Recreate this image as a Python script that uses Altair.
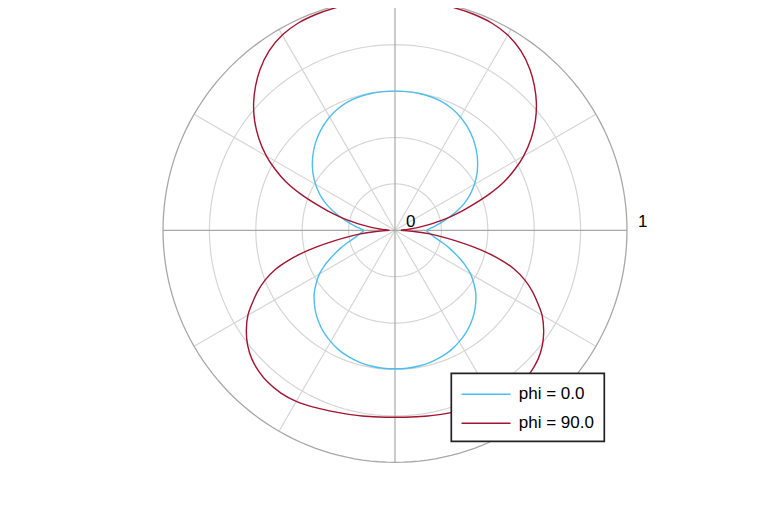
import altair as alt
import pandas as pd

# ---- data (angle in degrees, normalised radius) ----
SERIES = ["phi = 0.0", "phi = 90.0"]
COLORS = ["#4DBEEE", "#A2142F"]

THETA = [0, 2, 4, 6, 8, 10, 12, 14, 16, 18, 21, 24, 27, 30, 34, 38, 42, 46, 50, 55,
         60, 65, 70, 75, 80, 85, 90,
         95, 100, 105, 110, 115, 120, 125, 130, 134, 138, 142, 146, 150, 153, 156, 159,
         162, 164, 166, 168, 170, 172, 174, 176, 178, 180,
         182, 184, 186, 188, 190, 192, 194, 196, 198, 201, 204, 207, 210, 214, 218, 222,
         226, 230, 235, 240, 245, 250, 255, 260, 265, 270,
         275, 280, 285, 290, 295, 300, 305, 310, 314, 318, 322, 326, 330, 333, 336, 339,
         342, 344, 346, 348, 350, 352, 354, 356, 358, 360]

BLUE_R = [0.135, 0.146, 0.158, 0.174, 0.190, 0.207, 0.225, 0.245, 0.266, 0.287,
          0.318, 0.346, 0.371, 0.395, 0.425, 0.452, 0.477, 0.500, 0.521, 0.544,
          0.564, 0.579, 0.590, 0.596, 0.599, 0.600, 0.600,
          0.600, 0.599, 0.596, 0.590, 0.579, 0.564, 0.544, 0.521, 0.500, 0.477,
          0.452, 0.425, 0.395, 0.371, 0.346, 0.318, 0.287, 0.266, 0.245, 0.225,
          0.207, 0.190, 0.174, 0.158, 0.146, 0.135,
          0.139, 0.145, 0.153, 0.162, 0.174, 0.188, 0.205, 0.225, 0.245, 0.276,
          0.310, 0.344, 0.376, 0.410, 0.442, 0.468, 0.492, 0.513, 0.536, 0.554,
          0.570, 0.581, 0.589, 0.594, 0.597, 0.597,
          0.597, 0.594, 0.589, 0.581, 0.570, 0.554, 0.536, 0.513, 0.492, 0.468,
          0.442, 0.410, 0.376, 0.344, 0.310, 0.276, 0.245, 0.225, 0.205, 0.188,
          0.174, 0.162, 0.153, 0.145, 0.139, 0.135]

RED_R = [0.025, 0.032, 0.055, 0.080, 0.115, 0.160, 0.205, 0.250, 0.300, 0.350,
         0.435, 0.515, 0.580, 0.640, 0.708, 0.768, 0.820, 0.865, 0.905, 0.945,
         0.972, 0.986, 0.991, 0.993, 0.994, 0.994, 0.994,
         0.994, 0.994, 0.993, 0.991, 0.986, 0.972, 0.945, 0.905, 0.865, 0.820,
         0.768, 0.708, 0.640, 0.580, 0.515, 0.435, 0.350, 0.300, 0.250, 0.205,
         0.160, 0.115, 0.080, 0.055, 0.032, 0.025,
         0.040, 0.090, 0.150, 0.205, 0.270, 0.345, 0.420, 0.485, 0.540, 0.600,
         0.648, 0.690, 0.732, 0.773, 0.806, 0.830, 0.845, 0.854, 0.857, 0.852,
         0.840, 0.828, 0.819, 0.813, 0.808, 0.806,
         0.808, 0.813, 0.819, 0.828, 0.840, 0.852, 0.857, 0.854, 0.845, 0.830,
         0.806, 0.773, 0.732, 0.690, 0.648, 0.600, 0.540, 0.485, 0.420, 0.345,
         0.270, 0.205, 0.150, 0.090, 0.040, 0.025]

RING_R = [0.2, 0.4, 0.6, 0.8]
OUTER_R = [1.0]
SPOKE_ANGLES = list(range(0, 360, 30))
RING_ANGLES = list(range(0, 361, 2))
TICK_VALUES = [0, 1]
TICK_LABELS = ["0", "1"]

# ---- layout ----
K = 232.0              # pixels per unit radius
W, H = 740, 500        # plot area
CX, CY = 387.0, 222.3  # centre inside plot area
xs = alt.Scale(domain=[-CX / K, (W - CX) / K], nice=False, zero=False)
ys = alt.Scale(domain=[-(H - CY) / K, CY / K], nice=False, zero=False)
LIGHT = "#d6d6d6"
DARK = "#a8a8a8"
FONT = "Liberation Sans"

X = alt.X("x:Q", scale=xs, axis=None)
Y = alt.Y("y:Q", scale=ys, axis=None)
POLAR_X = "datum.r*cos(datum.theta*PI/180)"
POLAR_Y = "datum.r*sin(datum.theta*PI/180)"


def ring_layer(radii, color, width):
    df = pd.DataFrame([{"r": r, "theta": a} for r in radii for a in RING_ANGLES])
    return alt.Chart(df).transform_calculate(x=POLAR_X, y=POLAR_Y).mark_line(
        strokeWidth=width, color=color, clip=False
    ).encode(x=X, y=Y, detail="r:N", order="theta:Q")


spokes = alt.Chart(pd.DataFrame({"theta": SPOKE_ANGLES})).transform_calculate(
    x="0", y="0",
    x2="cos(datum.theta*PI/180)", y2="sin(datum.theta*PI/180)",
    main="datum.theta % 90 == 0 ? 1 : 0",
).mark_rule(strokeWidth=1.2, clip=False).encode(
    x=X, y=Y, x2="x2:Q", y2="y2:Q",
    color=alt.condition("datum.main == 1", alt.value(DARK), alt.value(LIGHT)),
    order="main:Q",
)

curve_df = pd.DataFrame({
    "series": [SERIES[0]] * len(THETA) + [SERIES[1]] * len(THETA),
    "theta": THETA + THETA,
    "r": BLUE_R + RED_R,
    "i": list(range(len(THETA))) * 2,
})

curves = alt.Chart(curve_df).transform_calculate(x=POLAR_X, y=POLAR_Y).mark_line(
    strokeWidth=1.4, interpolate="catmull-rom", clip=False
).encode(
    x=X, y=Y, order="i:Q",
    color=alt.Color(
        "series:N",
        scale=alt.Scale(domain=SERIES, range=COLORS),
        legend=alt.Legend(title=None, orient="none", legendX=443.3, legendY=365.3),
    ),
)

labels = alt.Chart(pd.DataFrame({"r": TICK_VALUES, "t": TICK_LABELS})).transform_calculate(
    x="datum.r", y="0"
).mark_text(
    align="left", baseline="alphabetic", dx=11, dy=-3, font=FONT, fontSize=17, color="black"
).encode(x=X, y=Y, text="t:N")

chart = alt.layer(
    ring_layer(RING_R, LIGHT, 1.2),
    spokes,
    ring_layer(OUTER_R, DARK, 1.3),
    curves,
    labels,
).properties(
    width=W, height=H,
    autosize=alt.AutoSizeParams(type="none"),
    padding=0,
    background="white",
).configure_view(stroke=None).configure_legend(
    strokeColor="#222222",
    strokeWidth=1.7,
    fillColor="white",
    padding=10,
    cornerRadius=0,
    symbolType="M-2.45,0H2.45",
    symbolSize=400,
    symbolOffset=13.75,
    symbolStrokeWidth=1.5,
    labelFont=FONT,
    labelFontSize=17,
    labelColor="black",
    labelOffset=21.7,
    labelLimit=300,
    rowPadding=10,
)

chart.save("out.html", embed_options={"renderer": "svg", "actions": False})
